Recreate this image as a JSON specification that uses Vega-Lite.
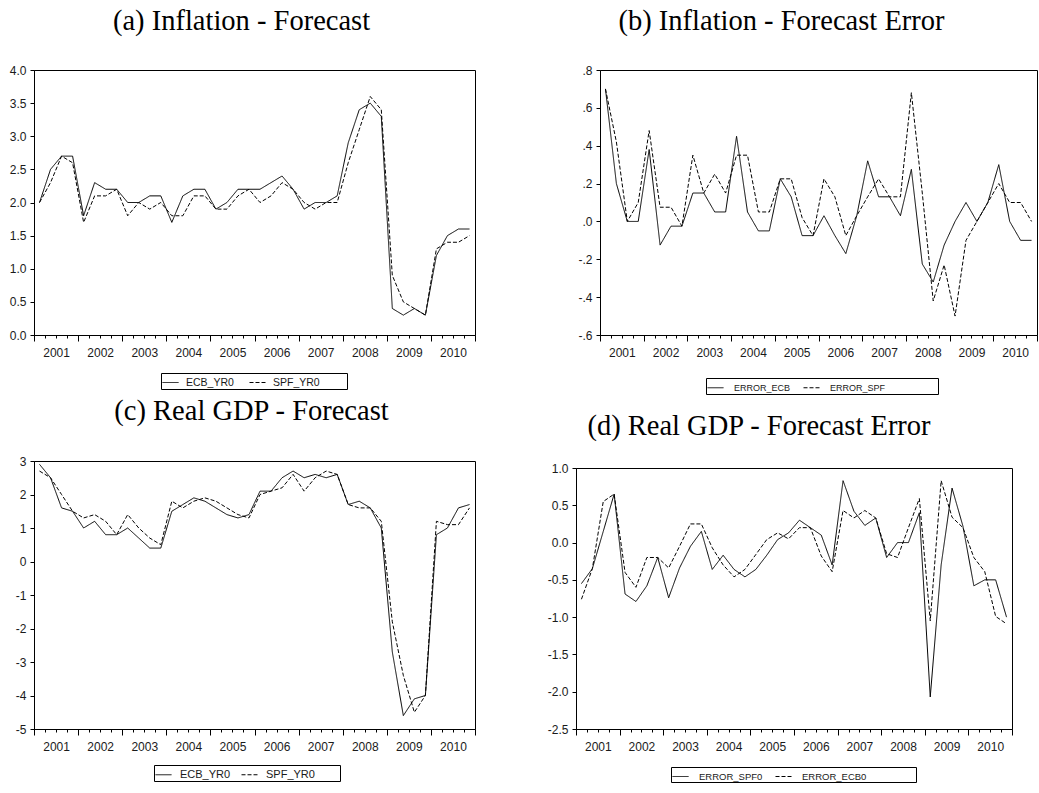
{
  "$schema": "https://vega.github.io/schema/vega-lite/v6.json",
  "padding": {"left": 8, "top": 6, "right": 0, "bottom": 0},
  "datasets": {
    "a": [
      {"i":0,"ECB_YR0":2.0,"SPF_YR0":2.0},{"i":1,"ECB_YR0":2.5,"SPF_YR0":2.3},{"i":2,"ECB_YR0":2.7,"SPF_YR0":2.7},{"i":3,"ECB_YR0":2.7,"SPF_YR0":2.6},
      {"i":4,"ECB_YR0":1.8,"SPF_YR0":1.7},{"i":5,"ECB_YR0":2.3,"SPF_YR0":2.1},{"i":6,"ECB_YR0":2.2,"SPF_YR0":2.1},{"i":7,"ECB_YR0":2.2,"SPF_YR0":2.2},
      {"i":8,"ECB_YR0":2.0,"SPF_YR0":1.8},{"i":9,"ECB_YR0":2.0,"SPF_YR0":2.0},{"i":10,"ECB_YR0":2.1,"SPF_YR0":1.9},{"i":11,"ECB_YR0":2.1,"SPF_YR0":2.0},
      {"i":12,"ECB_YR0":1.7,"SPF_YR0":1.8},{"i":13,"ECB_YR0":2.1,"SPF_YR0":1.8},{"i":14,"ECB_YR0":2.2,"SPF_YR0":2.1},{"i":15,"ECB_YR0":2.2,"SPF_YR0":2.1},
      {"i":16,"ECB_YR0":1.9,"SPF_YR0":1.9},{"i":17,"ECB_YR0":2.0,"SPF_YR0":1.9},{"i":18,"ECB_YR0":2.2,"SPF_YR0":2.1},{"i":19,"ECB_YR0":2.2,"SPF_YR0":2.2},
      {"i":20,"ECB_YR0":2.2,"SPF_YR0":2.0},{"i":21,"ECB_YR0":2.3,"SPF_YR0":2.1},{"i":22,"ECB_YR0":2.4,"SPF_YR0":2.3},{"i":23,"ECB_YR0":2.2,"SPF_YR0":2.2},
      {"i":24,"ECB_YR0":1.9,"SPF_YR0":2.0},{"i":25,"ECB_YR0":2.0,"SPF_YR0":1.9},{"i":26,"ECB_YR0":2.0,"SPF_YR0":2.0},{"i":27,"ECB_YR0":2.1,"SPF_YR0":2.0},
      {"i":28,"ECB_YR0":2.9,"SPF_YR0":2.6},{"i":29,"ECB_YR0":3.4,"SPF_YR0":3.1},{"i":30,"ECB_YR0":3.5,"SPF_YR0":3.6},{"i":31,"ECB_YR0":3.3,"SPF_YR0":3.4},
      {"i":32,"ECB_YR0":0.4,"SPF_YR0":0.9},{"i":33,"ECB_YR0":0.3,"SPF_YR0":0.5},{"i":34,"ECB_YR0":0.4,"SPF_YR0":0.4},{"i":35,"ECB_YR0":0.3,"SPF_YR0":0.3},
      {"i":36,"ECB_YR0":1.2,"SPF_YR0":1.3},{"i":37,"ECB_YR0":1.5,"SPF_YR0":1.4},{"i":38,"ECB_YR0":1.6,"SPF_YR0":1.4},{"i":39,"ECB_YR0":1.6,"SPF_YR0":1.5}
    ],
    "b": [
      {"i":0,"ERROR_ECB":0.70,"ERROR_SPF":0.70},{"i":1,"ERROR_ECB":0.20,"ERROR_SPF":0.42},{"i":2,"ERROR_ECB":0.0,"ERROR_SPF":0.0},{"i":3,"ERROR_ECB":0.0,"ERROR_SPF":0.10},
      {"i":4,"ERROR_ECB":0.38,"ERROR_SPF":0.48},{"i":5,"ERROR_ECB":-0.125,"ERROR_SPF":0.075},{"i":6,"ERROR_ECB":-0.025,"ERROR_SPF":0.075},{"i":7,"ERROR_ECB":-0.025,"ERROR_SPF":-0.025},
      {"i":8,"ERROR_ECB":0.15,"ERROR_SPF":0.35},{"i":9,"ERROR_ECB":0.15,"ERROR_SPF":0.15},{"i":10,"ERROR_ECB":0.05,"ERROR_SPF":0.25},{"i":11,"ERROR_ECB":0.05,"ERROR_SPF":0.15},
      {"i":12,"ERROR_ECB":0.45,"ERROR_SPF":0.35},{"i":13,"ERROR_ECB":0.05,"ERROR_SPF":0.35},{"i":14,"ERROR_ECB":-0.05,"ERROR_SPF":0.05},{"i":15,"ERROR_ECB":-0.05,"ERROR_SPF":0.05},
      {"i":16,"ERROR_ECB":0.225,"ERROR_SPF":0.225},{"i":17,"ERROR_ECB":0.13,"ERROR_SPF":0.225},{"i":18,"ERROR_ECB":-0.075,"ERROR_SPF":0.02},{"i":19,"ERROR_ECB":-0.075,"ERROR_SPF":-0.075},
      {"i":20,"ERROR_ECB":0.03,"ERROR_SPF":0.225},{"i":21,"ERROR_ECB":-0.075,"ERROR_SPF":0.13},{"i":22,"ERROR_ECB":-0.17,"ERROR_SPF":-0.075},{"i":23,"ERROR_ECB":0.03,"ERROR_SPF":0.03},
      {"i":24,"ERROR_ECB":0.32,"ERROR_SPF":0.13},{"i":25,"ERROR_ECB":0.13,"ERROR_SPF":0.225},{"i":26,"ERROR_ECB":0.13,"ERROR_SPF":0.13},{"i":27,"ERROR_ECB":0.03,"ERROR_SPF":0.13},
      {"i":28,"ERROR_ECB":0.275,"ERROR_SPF":0.68},{"i":29,"ERROR_ECB":-0.225,"ERROR_SPF":0.15},{"i":30,"ERROR_ECB":-0.32,"ERROR_SPF":-0.42},{"i":31,"ERROR_ECB":-0.125,"ERROR_SPF":-0.23},
      {"i":32,"ERROR_ECB":0.0,"ERROR_SPF":-0.50},{"i":33,"ERROR_ECB":0.1,"ERROR_SPF":-0.10},{"i":34,"ERROR_ECB":0.0,"ERROR_SPF":0.0},{"i":35,"ERROR_ECB":0.1,"ERROR_SPF":0.10},
      {"i":36,"ERROR_ECB":0.3,"ERROR_SPF":0.2},{"i":37,"ERROR_ECB":0.0,"ERROR_SPF":0.1},{"i":38,"ERROR_ECB":-0.1,"ERROR_SPF":0.1},{"i":39,"ERROR_ECB":-0.1,"ERROR_SPF":0.0}
    ],
    "c": [
      {"i":0,"ECB_YR0":2.9,"SPF_YR0":2.7},{"i":1,"ECB_YR0":2.5,"SPF_YR0":2.5},{"i":2,"ECB_YR0":1.6,"SPF_YR0":2.0},{"i":3,"ECB_YR0":1.5,"SPF_YR0":1.5},
      {"i":4,"ECB_YR0":1.0,"SPF_YR0":1.3},{"i":5,"ECB_YR0":1.2,"SPF_YR0":1.4},{"i":6,"ECB_YR0":0.8,"SPF_YR0":1.2},{"i":7,"ECB_YR0":0.8,"SPF_YR0":0.8},
      {"i":8,"ECB_YR0":1.0,"SPF_YR0":1.4},{"i":9,"ECB_YR0":0.7,"SPF_YR0":1.0},{"i":10,"ECB_YR0":0.4,"SPF_YR0":0.7},{"i":11,"ECB_YR0":0.4,"SPF_YR0":0.5},
      {"i":12,"ECB_YR0":1.5,"SPF_YR0":1.8},{"i":13,"ECB_YR0":1.7,"SPF_YR0":1.6},{"i":14,"ECB_YR0":1.9,"SPF_YR0":1.8},{"i":15,"ECB_YR0":1.8,"SPF_YR0":1.9},
      {"i":16,"ECB_YR0":1.6,"SPF_YR0":1.8},{"i":17,"ECB_YR0":1.4,"SPF_YR0":1.6},{"i":18,"ECB_YR0":1.3,"SPF_YR0":1.4},{"i":19,"ECB_YR0":1.4,"SPF_YR0":1.3},
      {"i":20,"ECB_YR0":2.1,"SPF_YR0":2.0},{"i":21,"ECB_YR0":2.1,"SPF_YR0":2.1},{"i":22,"ECB_YR0":2.5,"SPF_YR0":2.2},{"i":23,"ECB_YR0":2.7,"SPF_YR0":2.6},
      {"i":24,"ECB_YR0":2.5,"SPF_YR0":2.1},{"i":25,"ECB_YR0":2.6,"SPF_YR0":2.5},{"i":26,"ECB_YR0":2.5,"SPF_YR0":2.7},{"i":27,"ECB_YR0":2.6,"SPF_YR0":2.6},
      {"i":28,"ECB_YR0":1.7,"SPF_YR0":1.7},{"i":29,"ECB_YR0":1.8,"SPF_YR0":1.6},{"i":30,"ECB_YR0":1.6,"SPF_YR0":1.6},{"i":31,"ECB_YR0":1.0,"SPF_YR0":1.2},
      {"i":32,"ECB_YR0":-2.7,"SPF_YR0":-1.8},{"i":33,"ECB_YR0":-4.6,"SPF_YR0":-3.4},{"i":34,"ECB_YR0":-4.1,"SPF_YR0":-4.5},{"i":35,"ECB_YR0":-4.0,"SPF_YR0":-4.0},
      {"i":36,"ECB_YR0":0.8,"SPF_YR0":1.2},{"i":37,"ECB_YR0":1.0,"SPF_YR0":1.1},{"i":38,"ECB_YR0":1.6,"SPF_YR0":1.1},{"i":39,"ECB_YR0":1.7,"SPF_YR0":1.6}
    ],
    "d": [
      {"i":0,"ERROR_SPF0":-0.55,"ERROR_ECB0":-0.76},{"i":1,"ERROR_SPF0":-0.35,"ERROR_ECB0":-0.35},{"i":2,"ERROR_SPF0":0.15,"ERROR_ECB0":0.55},{"i":3,"ERROR_SPF0":0.65,"ERROR_ECB0":0.65},
      {"i":4,"ERROR_SPF0":-0.69,"ERROR_ECB0":-0.4},{"i":5,"ERROR_SPF0":-0.79,"ERROR_ECB0":-0.6},{"i":6,"ERROR_SPF0":-0.58,"ERROR_ECB0":-0.2},{"i":7,"ERROR_SPF0":-0.2,"ERROR_ECB0":-0.2},
      {"i":8,"ERROR_SPF0":-0.74,"ERROR_ECB0":-0.34},{"i":9,"ERROR_SPF0":-0.34,"ERROR_ECB0":-0.05},{"i":10,"ERROR_SPF0":-0.05,"ERROR_ECB0":0.25},{"i":11,"ERROR_SPF0":0.15,"ERROR_ECB0":0.25},
      {"i":12,"ERROR_SPF0":-0.36,"ERROR_ECB0":-0.07},{"i":13,"ERROR_SPF0":-0.17,"ERROR_ECB0":-0.3},{"i":14,"ERROR_SPF0":-0.36,"ERROR_ECB0":-0.46},{"i":15,"ERROR_SPF0":-0.46,"ERROR_ECB0":-0.36},
      {"i":16,"ERROR_SPF0":-0.36,"ERROR_ECB0":-0.16},{"i":17,"ERROR_SPF0":-0.17,"ERROR_ECB0":0.04},{"i":18,"ERROR_SPF0":0.04,"ERROR_ECB0":0.13},{"i":19,"ERROR_SPF0":0.13,"ERROR_ECB0":0.05},
      {"i":20,"ERROR_SPF0":0.3,"ERROR_ECB0":0.2},{"i":21,"ERROR_SPF0":0.2,"ERROR_ECB0":0.2},{"i":22,"ERROR_SPF0":0.1,"ERROR_ECB0":-0.18},{"i":23,"ERROR_SPF0":-0.3,"ERROR_ECB0":-0.39},
      {"i":24,"ERROR_SPF0":0.83,"ERROR_ECB0":0.43},{"i":25,"ERROR_SPF0":0.42,"ERROR_ECB0":0.33},{"i":26,"ERROR_SPF0":0.23,"ERROR_ECB0":0.43},{"i":27,"ERROR_SPF0":0.33,"ERROR_ECB0":0.33},
      {"i":28,"ERROR_SPF0":-0.2,"ERROR_ECB0":-0.15},{"i":29,"ERROR_SPF0":0.0,"ERROR_ECB0":-0.2},{"i":30,"ERROR_SPF0":0.0,"ERROR_ECB0":0.2},{"i":31,"ERROR_SPF0":0.4,"ERROR_ECB0":0.59},
      {"i":32,"ERROR_SPF0":-2.07,"ERROR_ECB0":-1.05},{"i":33,"ERROR_SPF0":-0.3,"ERROR_ECB0":0.83},{"i":34,"ERROR_SPF0":0.73,"ERROR_ECB0":0.34},{"i":35,"ERROR_SPF0":0.22,"ERROR_ECB0":0.2},
      {"i":36,"ERROR_SPF0":-0.58,"ERROR_ECB0":-0.2},{"i":37,"ERROR_SPF0":-0.5,"ERROR_ECB0":-0.39},{"i":38,"ERROR_SPF0":-0.5,"ERROR_ECB0":-0.99},{"i":39,"ERROR_SPF0":-1.0,"ERROR_ECB0":-1.09}
    ]
  },
  "config": {
    "view": {"stroke": "black", "strokeWidth": 1},
    "axis": {"grid": false, "domainColor": "black", "domainWidth": 1, "tickColor": "black", "tickWidth": 1, "labelFont": "Liberation Sans", "labelFontSize": 12, "labelColor": "#1a1a1a"},
    "legend": {"strokeColor": "black", "padding": 1, "symbolType": "stroke", "symbolStrokeColor": "black", "symbolStrokeWidth": 1, "symbolSize": 256, "labelFont": "Liberation Sans", "labelColor": "#1a1a1a", "direction": "horizontal", "orient": "none", "titleOrient": "right", "titleFontSize": 1},
    "title": {"font": "Liberation Serif", "fontSize": 28.5, "fontWeight": "normal", "color": "black", "anchor": "middle", "frame": "group", "baseline": "alphabetic"},
    "line": {"color": "black", "strokeWidth": 1}
  },
  "resolve": {"scale": {"strokeDash": "independent"}, "legend": {"strokeDash": "independent"}},
  "spacing": 1,
  "vconcat": [
    {
      "spacing": 101,
      "resolve": {"scale": {"strokeDash": "independent"}, "legend": {"strokeDash": "independent"}},
      "hconcat": [
        {
          "width": 441, "height": 265,
          "data": {"name": "a"},
          "transform": [{"fold": ["ECB_YR0", "SPF_YR0"], "as": ["series", "value"]}],
          "title": {"text": "(a) Inflation - Forecast", "dx": -13, "offset": 29},
          "mark": {"type": "line"},
          "encoding": {
            "x": {"field": "i", "type": "quantitative", "scale": {"domain": [-0.5, 39.5], "nice": false, "zero": false},
              "axis": {"title": null, "values": [-0.5,0.5,1.5,2.5,3.5,4.5,5.5,6.5,7.5,8.5,9.5,10.5,11.5,12.5,13.5,14.5,15.5,16.5,17.5,18.5,19.5,20.5,21.5,22.5,23.5,24.5,25.5,26.5,27.5,28.5,29.5,30.5,31.5,32.5,33.5,34.5,35.5,36.5,37.5,38.5,39.5],
                "tickSize": {"condition": {"test": "(datum.value + 0.5) % 4 == 0", "value": 6}, "value": 3},
                "labelExpr": "(datum.value - 1.5) % 4 == 0 ? '' + (2001 + (datum.value - 1.5) / 4) : ''",
                "labelPadding": 9, "labelOverlap": false, "labelFlush": false, "labelBound": false}},
            "y": {"field": "value", "type": "quantitative", "scale": {"domain": [0, 4], "nice": false, "zero": false},
              "axis": {"title": null, "values": [0,0.5,1,1.5,2,2.5,3,3.5,4], "format": ".1f", "tickSize": 4, "labelPadding": 4}},
            "strokeDash": {"field": "series", "type": "nominal", "scale": {"domain": ["ECB_YR0", "SPF_YR0"], "range": [[1, 0], [4, 2]]},
              "legend": {"title": "\u00a0", "legendX": 127, "legendY": 303, "labelFontSize": 10.5, "labelOffset": 7, "columnPadding": 13, "titlePadding": 26}}
          }
        },
        {
          "width": 437, "height": 265,
          "data": {"name": "b"},
          "transform": [{"fold": ["ERROR_ECB", "ERROR_SPF"], "as": ["series", "value"]}],
          "title": {"text": "(b) Inflation - Forecast Error", "dx": -37, "offset": 29},
          "mark": {"type": "line"},
          "encoding": {
            "x": {"field": "i", "type": "quantitative", "scale": {"domain": [-0.5, 39.5], "nice": false, "zero": false},
              "axis": {"title": null, "values": [-0.5,0.5,1.5,2.5,3.5,4.5,5.5,6.5,7.5,8.5,9.5,10.5,11.5,12.5,13.5,14.5,15.5,16.5,17.5,18.5,19.5,20.5,21.5,22.5,23.5,24.5,25.5,26.5,27.5,28.5,29.5,30.5,31.5,32.5,33.5,34.5,35.5,36.5,37.5,38.5,39.5],
                "tickSize": {"condition": {"test": "(datum.value + 0.5) % 4 == 0", "value": 6}, "value": 3},
                "labelExpr": "(datum.value - 1.5) % 4 == 0 ? '' + (2001 + (datum.value - 1.5) / 4) : ''",
                "labelPadding": 9, "labelOverlap": false, "labelFlush": false, "labelBound": false}},
            "y": {"field": "value", "type": "quantitative", "scale": {"domain": [-0.6, 0.8], "nice": false, "zero": false},
              "axis": {"title": null, "values": [-0.6,-0.4,-0.2,0,0.2,0.4,0.6,0.8], "tickSize": 4, "labelPadding": 4,
                "labelExpr": "(datum.value < -0.001 ? '-' : '') + replace(format(abs(datum.value), '.1f'), '0.', '.')"}},
            "strokeDash": {"field": "series", "type": "nominal", "scale": {"domain": ["ERROR_ECB", "ERROR_SPF"], "range": [[1, 0], [4, 2]]},
              "legend": {"title": "\u00a0", "legendX": 106, "legendY": 308, "labelFontSize": 9, "labelOffset": 10, "columnPadding": 10, "titlePadding": 52}}
          }
        }
      ]
    },
    {
      "spacing": 70,
      "resolve": {"scale": {"strokeDash": "independent"}, "legend": {"strokeDash": "independent"}},
      "hconcat": [
        {
          "width": 441, "height": 268,
          "data": {"name": "c"},
          "transform": [{"fold": ["ECB_YR0", "SPF_YR0"], "as": ["series", "value"]}],
          "title": {"text": "(c) Real GDP - Forecast", "dx": -3, "offset": 30},
          "mark": {"type": "line"},
          "encoding": {
            "x": {"field": "i", "type": "quantitative", "scale": {"domain": [-0.5, 39.5], "nice": false, "zero": false},
              "axis": {"title": null, "values": [-0.5,0.5,1.5,2.5,3.5,4.5,5.5,6.5,7.5,8.5,9.5,10.5,11.5,12.5,13.5,14.5,15.5,16.5,17.5,18.5,19.5,20.5,21.5,22.5,23.5,24.5,25.5,26.5,27.5,28.5,29.5,30.5,31.5,32.5,33.5,34.5,35.5,36.5,37.5,38.5,39.5],
                "tickSize": {"condition": {"test": "(datum.value + 0.5) % 4 == 0", "value": 6}, "value": 3},
                "labelExpr": "(datum.value - 1.5) % 4 == 0 ? '' + (2001 + (datum.value - 1.5) / 4) : ''",
                "labelPadding": 9, "labelOverlap": false, "labelFlush": false, "labelBound": false}},
            "y": {"field": "value", "type": "quantitative", "scale": {"domain": [-5, 3], "nice": false, "zero": false},
              "axis": {"title": null, "values": [-5,-4,-3,-2,-1,0,1,2,3], "tickSize": 4, "labelPadding": 4,
                "labelExpr": "(datum.value < 0 ? '-' : '') + format(abs(datum.value), 'd')"}},
            "strokeDash": {"field": "series", "type": "nominal", "scale": {"domain": ["ECB_YR0", "SPF_YR0"], "range": [[1, 0], [4, 2]]},
              "legend": {"title": "\u00a0", "legendX": 120, "legendY": 304, "labelFontSize": 11, "labelOffset": 8, "columnPadding": 8, "titlePadding": 24}}
          }
        },
        {
          "spacing": 0,
          "bounds": "flush",
          "resolve": {"scale": {"strokeDash": "independent"}, "legend": {"strokeDash": "independent"}},
          "vconcat": [
            {"width": 10, "height": 7, "data": {"values": []}, "mark": "point", "view": {"stroke": null}},
            {
              "width": 436, "height": 261,
              "data": {"name": "d"},
              "transform": [{"fold": ["ERROR_SPF0", "ERROR_ECB0"], "as": ["series", "value"]}],
              "title": {"text": "(d) Real GDP - Forecast Error", "dx": -35, "offset": 22},
              "mark": {"type": "line"},
              "encoding": {
                "x": {"field": "i", "type": "quantitative", "scale": {"domain": [-0.5, 39.5], "nice": false, "zero": false},
                  "axis": {"title": null, "values": [-0.5,0.5,1.5,2.5,3.5,4.5,5.5,6.5,7.5,8.5,9.5,10.5,11.5,12.5,13.5,14.5,15.5,16.5,17.5,18.5,19.5,20.5,21.5,22.5,23.5,24.5,25.5,26.5,27.5,28.5,29.5,30.5,31.5,32.5,33.5,34.5,35.5,36.5,37.5,38.5,39.5],
                    "tickSize": {"condition": {"test": "(datum.value + 0.5) % 4 == 0", "value": 6}, "value": 3},
                    "labelExpr": "(datum.value - 1.5) % 4 == 0 ? '' + (2001 + (datum.value - 1.5) / 4) : ''",
                    "labelPadding": 9, "labelOverlap": false, "labelFlush": false, "labelBound": false}},
                "y": {"field": "value", "type": "quantitative", "scale": {"domain": [-2.5, 1.0], "nice": false, "zero": false},
                  "axis": {"title": null, "values": [-2.5,-2,-1.5,-1,-0.5,0,0.5,1], "tickSize": 4, "labelPadding": 4,
                    "labelExpr": "(datum.value < 0 ? '-' : '') + format(abs(datum.value), '.1f')"}},
                "strokeDash": {"field": "series", "type": "nominal", "scale": {"domain": ["ERROR_SPF0", "ERROR_ECB0"], "range": [[1, 0], [4, 2]]},
                  "legend": {"title": "\u00a0", "legendX": 95, "legendY": 299, "labelFontSize": 9.5, "labelOffset": 10, "columnPadding": 10, "titlePadding": 49}}
              }
            }
          ]
        }
      ]
    }
  ]
}
